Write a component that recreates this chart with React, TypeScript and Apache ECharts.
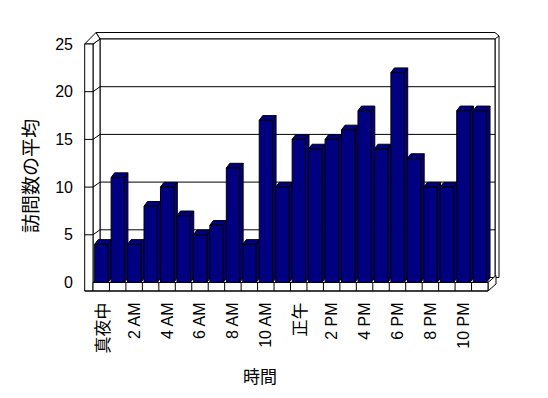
import React, { useEffect, useRef } from "react";
import * as echarts from "echarts";

const CATEGORIES = [
  "真夜中", "1 AM", "2 AM", "3 AM", "4 AM", "5 AM", "6 AM", "7 AM",
  "8 AM", "9 AM", "10 AM", "11 AM", "正午", "1 PM", "2 PM", "3 PM",
  "4 PM", "5 PM", "6 PM", "7 PM", "8 PM", "9 PM", "10 PM", "11 PM",
];
const VISITS = [4, 11, 4, 8, 10, 7, 5, 6, 12, 4, 17, 10, 15, 14, 15, 16, 18, 14, 22, 13, 10, 10, 18, 18];
const Y_TICKS = [0, 5, 10, 15, 20, 25];
const Y_TITLE = "訪問数の平均";
const X_TITLE = "時間";

const FONT = "'Liberation Sans', Arial, 'Noto Sans CJK JP', sans-serif";
const CJK = "'Noto Sans CJK JP', sans-serif";
const NAVY = "#000080";

export default function App() {
  const ref = useRef<HTMLDivElement>(null);
  useEffect(() => {
    if (!ref.current) return;
    const chart = echarts.init(ref.current, null, { renderer: "svg" });
    const yMax = Y_TICKS[Y_TICKS.length - 1];
    const ln = (x1: number, y1: number, x2: number, y2: number) => ({
      type: "line",
      shape: { x1, y1, x2, y2 },
      style: { stroke: "#000", lineWidth: 1, fill: null },
    });
    const poly = (points: number[][], fill = "#fff") => ({
      type: "polygon",
      shape: { points },
      style: { fill, stroke: "#000", lineWidth: 1 },
    });

    const renderFrame = (_params: any, api: any) => {
      const w = api.size([1, 0])[0];
      const xs = api.coord([0, 0])[0] - w / 2;
      const xe = api.coord([CATEGORIES.length - 1, 0])[0] + w / 2;
      const y0 = api.coord([0, 0])[1];
      const yT = api.coord([0, yMax])[1];
      const dx = 7, dy = -5;
      const wallT = 8.3;
      const floorT = 8.5;
      const c: any[] = [];
      c.push(poly([
        [xs + dx - 4, yT + dy - 6.5],
        [xe + dx, yT + dy - 6.5],
        [xe + dx + 4, yT + dy - 3],
        [xe + dx + 4, y0 + dy],
        [xe + dx, y0 + dy],
        [xe + dx, yT + dy],
        [xs + dx, yT + dy],
      ]));
      c.push(ln(xe + dx, yT + dy, xe + dx + 4, yT + dy - 3));
      c.push({
        type: "rect",
        shape: { x: xs + dx, y: yT + dy, width: xe - xs, height: y0 - yT },
        style: { fill: "#fff", stroke: "#000", lineWidth: 1 },
      });
      c.push(poly([[xs, yT], [xs + dx, yT + dy], [xs + dx, y0 + dy], [xs, y0]]));
      c.push(poly([
        [xs - wallT, yT],
        [xs + dx - 4, yT + dy - 6.5],
        [xs + dx, yT + dy],
        [xs, yT],
      ]));
      c.push({
        type: "rect",
        shape: { x: xs - wallT, y: yT, width: wallT, height: y0 - yT + floorT },
        style: { fill: "#fff", stroke: "#000", lineWidth: 1 },
      });
      for (const v of Y_TICKS) {
        if (v === 0 || v === yMax) continue;
        const y = api.coord([0, v])[1];
        c.push(ln(xs + dx, y + dy, xe + dx, y + dy));
        c.push(ln(xs, y, xs + dx, y + dy));
        c.push(ln(xs - wallT, y, xs, y));
      }
      c.push(poly([[xs, y0], [xe, y0], [xe + dx, y0 + dy], [xs + dx, y0 + dy]]));
      c.push(poly([[xe, y0], [xe, y0 + floorT], [xe + dx + 1, y0 + floorT + dy - 2], [xe + dx + 1, y0 + dy - 2]]));
      c.push({
        type: "rect",
        shape: { x: xs, y: y0, width: xe - xs, height: floorT },
        style: { fill: "#fff", stroke: "#000", lineWidth: 1 },
      });
      for (let i = 1; i < CATEGORIES.length; i++) {
        const x = xs + i * w;
        c.push(ln(x, y0, x, y0 + floorT));
      }
      c.push(ln(xs - wallT, y0 + floorT, xe, y0 + floorT));
      return { type: "group", children: c };
    };

    const renderBar = (_params: any, api: any) => {
      const i = api.value(0);
      const v = api.value(1);
      const w = api.size([1, 0])[0];
      const [cx, yT] = api.coord([i, v]);
      const y0 = api.coord([i, 0])[1];
      const L = cx - w / 2 + w * 0.1;
      const R = L + w * 0.81;
      const bdx = 3.5, bdy = -4.7;
      return {
        type: "group",
        children: [
          poly([[R, yT], [R + bdx, yT + bdy], [R + bdx, y0 + bdy], [R, y0]], NAVY),
          poly([[L, yT], [R, yT], [R + bdx, yT + bdy], [L + bdx, yT + bdy]], NAVY),
          {
            type: "rect",
            shape: { x: L, y: yT, width: R - L, height: y0 - yT },
            style: { fill: NAVY, stroke: "#000", lineWidth: 1 },
          },
        ],
      };
    };

    chart.setOption({
      animation: false,
      backgroundColor: "#fff",
      grid: { left: 93, right: 60, top: 44, bottom: 115.5 },
      xAxis: {
        type: "category",
        data: CATEGORIES,
        axisLine: { show: false },
        axisTick: { show: false },
        axisLabel: {
          interval: 1,
          rotate: 90,
          margin: 20,
          fontSize: 16,
          color: "#000",
          fontFamily: FONT,
          formatter: (val: string) => (/[A-Z]/.test(val) ? val : `{c|${val}}`),
          rich: {
            c: { fontSize: 17, fontFamily: CJK, color: "#000" },
          },
        },
      },
      yAxis: {
        type: "value",
        min: 0,
        max: yMax,
        interval: 5,
        axisLine: { show: false },
        axisTick: { show: false },
        splitLine: { show: false },
        axisLabel: { margin: 20, fontSize: 16, color: "#000", fontFamily: FONT },
      },
      graphic: [
        {
          type: "text",
          x: 29,
          y: 176,
          rotation: Math.PI / 2,
          style: {
            text: Y_TITLE,
            fontSize: 19,
            fontFamily: CJK,
            fill: "#000",
            align: "center",
            verticalAlign: "middle",
          },
        },
        {
          type: "text",
          x: 260,
          y: 375,
          style: {
            text: X_TITLE,
            fontSize: 17,
            fontFamily: CJK,
            fill: "#000",
            align: "center",
            verticalAlign: "middle",
          },
        },
      ],
      series: [
        {
          type: "custom",
          z: 1,
          clip: false,
          data: [[0, 0]],
          encode: { x: 0, y: 1 },
          renderItem: renderFrame,
          silent: true,
        },
        {
          type: "custom",
          z: 2,
          clip: false,
          data: VISITS.map((v, i) => [i, v]),
          encode: { x: 0, y: 1 },
          renderItem: renderBar,
        },
      ],
    });
    return () => chart.dispose();
  }, []);
  return (
    <div
      ref={ref}
      style={{ position: "fixed", left: 0, top: 0, width: 548, height: 398, background: "#fff" }}
    />
  );
}
